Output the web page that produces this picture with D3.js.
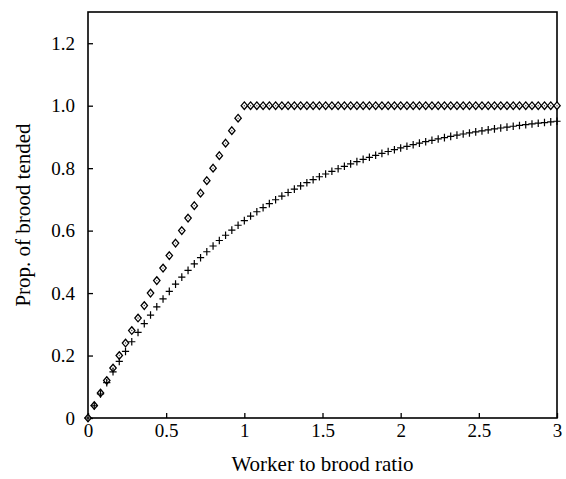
<!DOCTYPE html>
<html>
  <head>
    <style>
      body { margin: 0; background: #fff; }
      text { font-family: "Liberation Serif", "DejaVu Serif", serif; }
    </style>
    <script src="https://cdn.jsdelivr.net/npm/d3@7/dist/d3.min.js"></script>
  </head>
  <body>
    <script>
      // worker to brood ratio (x positions of the points)
      const ratio = [0, 0.04, 0.08, 0.12, 0.16, 0.20, 0.24, 0.28, 0.32, 0.36, 0.40, 0.44, 0.48, 0.52,
        0.56, 0.60, 0.64, 0.68, 0.72, 0.76, 0.80, 0.84, 0.88, 0.92, 0.96, 1.00, 1.04, 1.08, 1.12,
        1.16, 1.20, 1.24, 1.28, 1.32, 1.36, 1.40, 1.44, 1.48, 1.52, 1.56, 1.60, 1.64, 1.68, 1.72,
        1.76, 1.80, 1.84, 1.88, 1.92, 1.96, 2.00, 2.04, 2.08, 2.12, 2.16, 2.20, 2.24, 2.28, 2.32,
        2.36, 2.40, 2.44, 2.48, 2.52, 2.56, 2.60, 2.64, 2.68, 2.72, 2.76, 2.80, 2.84, 2.88, 2.92,
        2.96, 3.00];
      // diamonds
      const tendedDiamond = [0, 0.04, 0.08, 0.12, 0.16, 0.20, 0.24, 0.28, 0.32, 0.36, 0.40, 0.44,
        0.48, 0.52, 0.56, 0.60, 0.64, 0.68, 0.72, 0.76, 0.80, 0.84, 0.88, 0.92, 0.96,
        1, 1, 1, 1, 1, 1, 1, 1, 1, 1, 1, 1, 1, 1, 1, 1, 1, 1, 1, 1, 1, 1, 1, 1, 1,
        1, 1, 1, 1, 1, 1, 1, 1, 1, 1, 1, 1, 1, 1, 1, 1, 1, 1, 1, 1, 1, 1, 1, 1, 1, 1];
      // crosses
      const tendedCross = [0, 0.0392, 0.0769, 0.1131, 0.1479, 0.1813, 0.2134, 0.2442, 0.2739,
        0.3023, 0.3297, 0.3560, 0.3812, 0.4055, 0.4288, 0.4512, 0.4727, 0.4934, 0.5132, 0.5323,
        0.5507, 0.5683, 0.5852, 0.6015, 0.6171, 0.6321, 0.6466, 0.6604, 0.6737, 0.6865, 0.6988,
        0.7106, 0.7220, 0.7329, 0.7433, 0.7534, 0.7631, 0.7724, 0.7813, 0.7899, 0.7981, 0.8060,
        0.8136, 0.8209, 0.8280, 0.8347, 0.8412, 0.8474, 0.8534, 0.8591, 0.8647, 0.8700, 0.8751,
        0.8800, 0.8847, 0.8892, 0.8935, 0.8977, 0.9017, 0.9056, 0.9093, 0.9128, 0.9163, 0.9195,
        0.9227, 0.9257, 0.9286, 0.9314, 0.9341, 0.9367, 0.9392, 0.9416, 0.9439, 0.9461, 0.9482,
        0.9502];
      const xTicks = [0, 0.5, 1, 1.5, 2, 2.5, 3];
      const xTickLabels = ['0', '0.5', '1', '1.5', '2', '2.5', '3'];
      const yTicks = [0, 0.2, 0.4, 0.6, 0.8, 1.0, 1.2];
      const yTickLabels = ['0', '0.2', '0.4', '0.6', '0.8', '1.0', '1.2'];

      const width = 566, height = 479;
      const margin = {top: 12, right: 9, bottom: 61, left: 88};

      const svg = d3.select('body').append('svg')
        .attr('width', width).attr('height', height);

      const x = d3.scaleLinear().domain([0, 3]).range([margin.left, width - margin.right]);
      const y = d3.scaleLinear().domain([0, 1.3]).range([height - margin.bottom, margin.top]);

      // inward ticks
      const xAxis = d3.axisBottom(x).tickValues(xTicks).tickSize(-5).tickPadding(6)
        .tickFormat((d, i) => xTickLabels[i]);
      const yAxis = d3.axisLeft(y).tickValues(yTicks).tickSize(-5).tickPadding(13)
        .tickFormat((d, i) => yTickLabels[i]);

      const gx = svg.append('g').attr('transform', `translate(0,${height - margin.bottom})`).call(xAxis);
      const gy = svg.append('g').attr('transform', `translate(${margin.left},0)`).call(yAxis);
      [gx, gy].forEach(g => {
        g.select('.domain').remove();
        g.selectAll('.tick line').attr('stroke', '#000').attr('stroke-width', 1.3);
        g.selectAll('.tick text').attr('fill', '#000').style('font-size', '19px')
          .style('font-family', '"Liberation Serif", serif');
      });

      // frame
      svg.append('rect')
        .attr('x', margin.left).attr('y', margin.top)
        .attr('width', width - margin.right - margin.left)
        .attr('height', height - margin.bottom - margin.top)
        .attr('fill', 'none').attr('stroke', '#000').attr('stroke-width', 1.6);

      const diamonds = ratio.map((r, i) => ({x: r, y: tendedDiamond[i]}));
      const crosses = ratio.map((r, i) => ({x: r, y: tendedCross[i]}));

      svg.append('g').selectAll('path')
        .data(diamonds).join('path')
        .attr('transform', d => `translate(${x(d.x)},${y(d.y)})`)
        .attr('d', 'M0,-3.8L3.2,0L0,3.8L-3.2,0Z')
        .attr('fill', '#fff').attr('stroke', '#000').attr('stroke-width', 1.3);
      svg.append('g').selectAll('circle')
        .data(diamonds).join('circle')
        .attr('cx', d => x(d.x)).attr('cy', d => y(d.y))
        .attr('r', 0.7).attr('fill', '#444');

      svg.append('g').selectAll('path')
        .data(crosses).join('path')
        .attr('transform', d => `translate(${x(d.x)},${y(d.y)})`)
        .attr('d', 'M-3.6,0H3.6M0,-3.8V3.8')
        .attr('stroke', '#000').attr('stroke-width', 1.2);

      svg.append('text')
        .attr('x', (margin.left + width - margin.right) / 2).attr('y', 471)
        .attr('text-anchor', 'middle').style('font-size', '21px')
        .text('Worker to brood ratio');

      svg.append('text')
        .attr('transform', `translate(30,${(margin.top + height - margin.bottom) / 2}) rotate(-90)`)
        .attr('text-anchor', 'middle').style('font-size', '21px')
        .text('Prop. of brood tended');
    </script>
  </body>
</html>
